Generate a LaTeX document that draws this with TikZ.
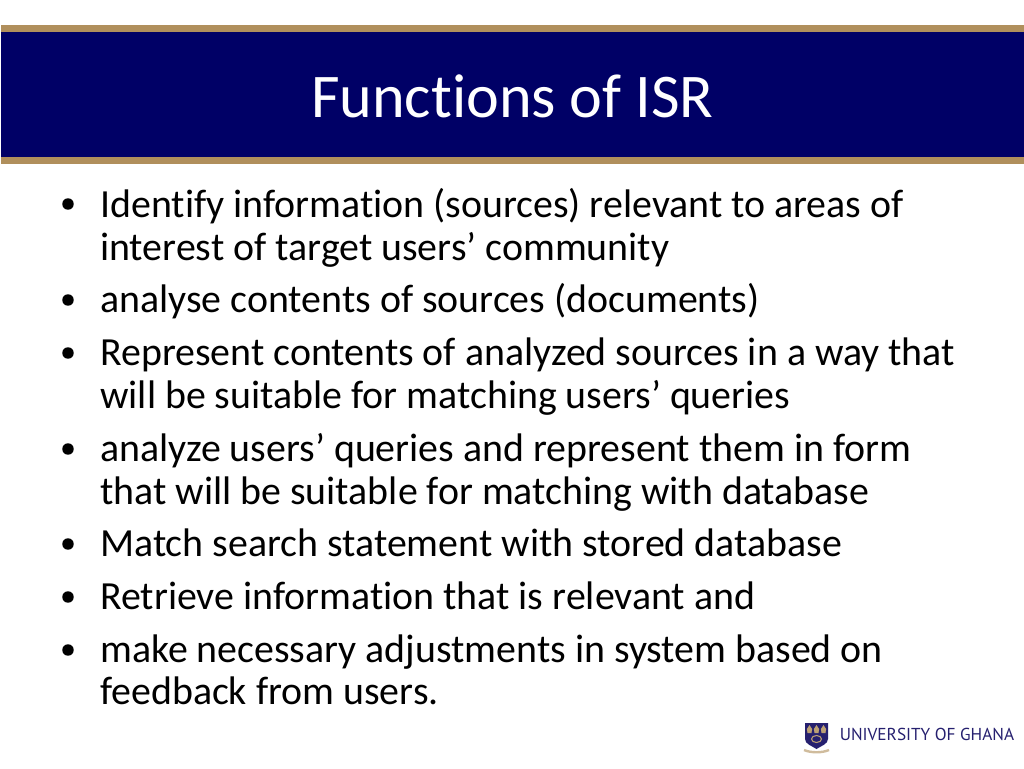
\documentclass[tikz,border=0pt]{standalone}
\usepackage{fontspec}
\setmainfont[Ligatures=NoCommon]{Carlito}
\newfontfamily\logofont{PT Sans}
\definecolor{navy}{HTML}{000066}
\definecolor{tan}{HTML}{B08F5C}
\definecolor{logoblue}{HTML}{26206F}
\tikzset{x=0.75pt,y=-0.75pt,
 bodyline/.style={anchor=base west,inner sep=0pt,font=\fontsize{29.9pt}{36pt}\selectfont,text=black},
 bulletdot/.style={circle,fill=black,inner sep=0pt,minimum size=8.6pt},
 crestgold/.style={fill=tan!85!white}}
\begin{document}
\begin{tikzpicture}
\useasboundingbox (0,0) rectangle (1024,768);
\fill[white] (0,0) rectangle (1024,768);
\fill[tan] (1,25) rectangle (1024,32);
\fill[navy] (1,32) rectangle (1024,157);
\fill[tan] (1,157) rectangle (1024,164);
\node[anchor=base,inner sep=0pt,text=white,font=\fontsize{46.6pt}{56pt}\selectfont] (title) at (512.5,117) {Functions of ISR};
\foreach \y in {204,300,353,449,544,597,650}{\node[bulletdot] at (68,\y) {};}
\node[bodyline] (l1) at (100,217) {Identify information (sources) relevant to areas of};
\node[bodyline] (l2) at (100,260) {interest of target users’ community};
\node[bodyline] (l3) at (100,312) {analyse contents of sources (documents)};
\node[bodyline] (l4) at (100,365) {Represent contents of analyzed sources in a way that};
\node[bodyline] (l5) at (100,408) {will be suitable for matching users’ queries};
\node[bodyline] (l6) at (100,461) {analyze users’ queries and represent them in form};
\node[bodyline] (l7) at (100,504) {that will be suitable for matching with database};
\node[bodyline] (l8) at (100,556) {Match search statement with stored database};
\node[bodyline] (l9) at (100,609) {Retrieve information that is relevant and};
\node[bodyline] (l10) at (100,662) {make necessary adjustments in system based on};
\node[bodyline] (l11) at (100,704) {feedback from users.};
% crest
\fill[logoblue] (805,723) -- (828,723) -- (828,739) .. controls (828,744) and (821,746) .. (816.5,749) .. controls (812,746) and (805,744) .. (805,739) -- cycle;
\foreach \cx in {809.5,816.5,823.5}{\fill[crestgold] (\cx-2,733) -- (\cx-2.6,729) -- (\cx,725) -- (\cx+2.6,729) -- (\cx+2,733) -- cycle;}
\draw[tan!85!white,line width=0.8pt] (816.5,739) ellipse (5 and 3.5);
\draw[tan!60!white,line width=1.8pt] (804,750) .. controls (811,753) and (822,753) .. (829,750);
\node[anchor=base west,inner sep=0pt,text=logoblue,font=\logofont\fontsize{12.95pt}{15pt}\selectfont] (logo) at (839.5,740) {UNIVERSITY OF GHANA};
\end{tikzpicture}
\end{document}
